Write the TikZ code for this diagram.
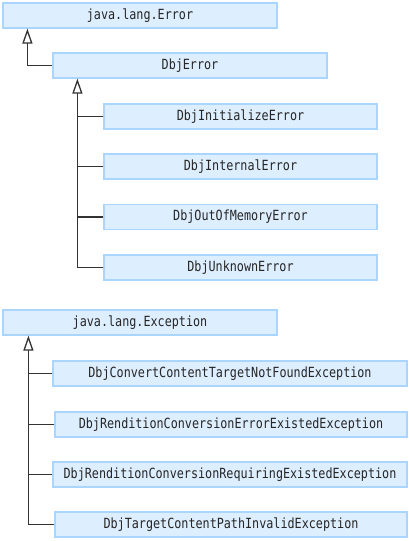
\documentclass[tikz,border=0pt]{standalone}
\usepackage{fontspec}
\newfontfamily\boxfont[FakeStretch=0.84]{DejaVu Sans Mono}
\usetikzlibrary{arrows.meta}
\definecolor{boxfill}{HTML}{DDEEFF}
\definecolor{boxline}{HTML}{AAD5FF}
\definecolor{conn}{HTML}{333333}
\tikzset{
  cls/.style={draw=boxline, fill=boxfill, line width=1.2pt, minimum height=25pt,
    inner sep=0pt, text=black!85, font=\boxfont\fontsize{14}{14}\selectfont},
  link/.style={draw=conn, line width=1.4pt},
  inh/.style={link, -{Triangle[open, length=15pt, width=10pt, line width=1.3pt]}}
}
\begin{document}
\begin{tikzpicture}[x=1pt, y=-1pt]
\useasboundingbox (0,0) rectangle (409,541);
% Error hierarchy
\node[cls, minimum width=274pt] (err) at (140,15.5) {java.lang.Error};
\node[cls, minimum width=274pt] (dbjerr) at (190,65.5) {DbjError};
\node[cls, minimum width=273pt] (init) at (240.5,116.5) {DbjInitializeError};
\node[cls, minimum width=273pt] (internal) at (240.5,166.5) {DbjInternalError};
\node[cls, minimum width=273pt] (oom) at (240.5,217) {DbjOutOfMemoryError};
\node[cls, minimum width=273pt] (unknown) at (240.5,267.5) {DbjUnknownError};
\coordinate (t0) at ([xshift=25pt]err.south west);
\coordinate (t1) at ([xshift=25pt]dbjerr.south west);
\draw[inh] (dbjerr.west) -| (t0);
\draw[inh] (unknown.west) -| (t1);
\draw[link] (init.west) -- (init.west -| t1);
\draw[link] (internal.west) -- (internal.west -| t1);
\draw[link] (oom.west) -- (oom.west -| t1);
% Exception hierarchy
\node[cls, minimum width=274pt] (exc) at (140,322.5) {java.lang.Exception};
\node[cls, minimum width=354pt] (c1) at (230,373.5) {DbjConvertContentTargetNotFoundException};
\node[cls, minimum width=352pt] (c2) at (231,424.5) {DbjRenditionConversionErrorExistedException};
\node[cls, minimum width=354pt] (c3) at (230,474.5) {DbjRenditionConversionRequiringExistedException};
\node[cls, minimum width=352pt] (c4) at (231,524.5) {DbjTargetContentPathInvalidException};
\coordinate (t2) at ([xshift=26pt]exc.south west);
\draw[inh] (c4.west) -| (t2);
\draw[link] (c1.west) -- (c1.west -| t2);
\draw[link] (c2.west) -- (c2.west -| t2);
\draw[link] (c3.west) -- (c3.west -| t2);
\end{tikzpicture}
\end{document}
